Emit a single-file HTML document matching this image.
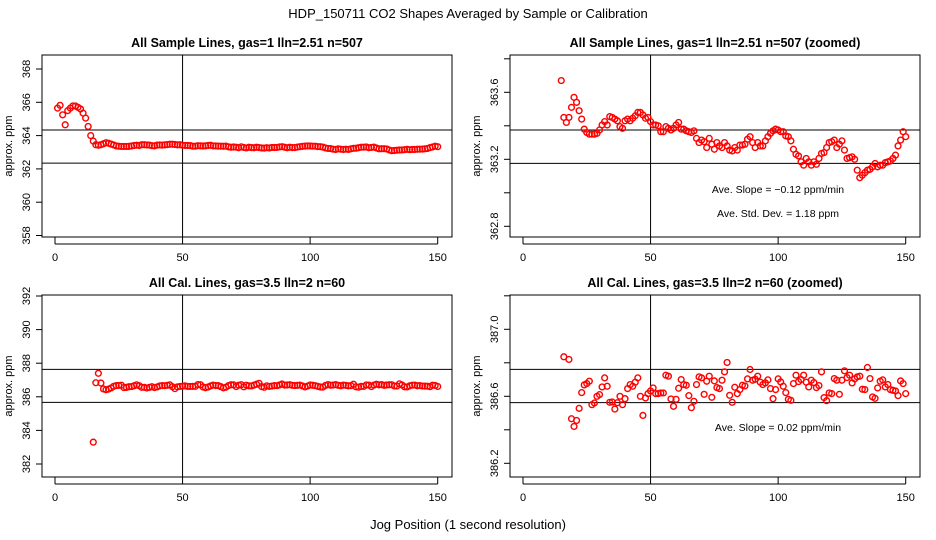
<!DOCTYPE html>
<html><head><meta charset="utf-8"><style>
html,body{margin:0;padding:0;background:#fff;width:936px;height:540px;overflow:hidden;}
svg{display:block;font-family:"Liberation Sans",sans-serif;}
</style></head><body>
<svg id="c" width="936" height="540" viewBox="0 0 936 540">
<text x="468" y="18" text-anchor="middle" font-size="13">HDP_150711  CO2 Shapes Averaged by Sample or Calibration</text>
<text x="468" y="529" text-anchor="middle" font-size="13">Jog Position (1 second resolution)</text>
</svg>
<script>
const xTicks=[0,50,100,150];
const sampleX=[];for(let i=1;i<=150;i++)sampleX.push(i);
const sampleY=[365.65,365.82,365.25,364.65,365.5,365.65,365.78,365.78,365.7,365.6,365.35,365.05,364.55,364.0,
363.67,363.45,363.42,363.45,363.51,363.57,363.54,363.49,363.44,363.38,363.36,363.35,363.35,363.35,363.355,363.375,
363.405,363.425,363.405,363.455,363.45,363.44,363.43,363.395,363.385,363.43,363.44,363.43,363.445,363.46,363.48,
363.48,363.465,363.445,363.45,363.425,363.405,363.405,363.4,363.365,363.365,363.395,363.385,363.375,363.385,363.405,
363.42,363.38,363.38,363.37,363.365,363.36,363.37,363.325,363.3,363.315,363.305,363.27,363.325,363.29,363.26,
363.3,363.28,363.27,363.3,363.28,363.255,363.25,363.27,363.255,363.285,363.285,363.29,363.32,363.335,363.3,
363.27,363.3,363.28,363.28,363.31,363.335,363.355,363.37,363.38,363.375,363.365,363.365,363.34,363.335,363.31,
363.26,363.23,363.22,363.185,363.165,363.205,363.185,363.165,363.185,363.17,363.205,363.235,363.24,363.27,363.3,
363.305,363.315,363.27,363.29,363.31,363.255,363.205,363.21,363.215,363.2,363.135,363.09,363.105,363.12,363.135,
363.14,363.155,363.175,363.155,363.165,363.165,363.18,363.185,363.19,363.205,363.225,363.28,363.315,363.365,363.335];
const calX=[];for(let i=15;i<=150;i++)calX.push(i);
const calY=[383.3,386.836,387.4,386.82,386.466,386.42,386.456,386.528,386.622,386.668,386.676,386.69,386.55,386.56,386.6,
386.61,386.656,386.71,386.66,386.564,386.566,386.524,386.562,386.6,386.55,386.586,386.646,386.67,386.66,386.684,
386.71,386.6,386.486,386.59,386.616,386.632,386.65,386.616,386.616,386.62,386.62,386.726,386.72,386.584,386.54,
386.582,386.648,386.7,386.67,386.666,386.604,386.532,386.57,386.67,386.716,386.71,386.612,386.69,386.72,386.594,
386.692,386.652,386.646,386.696,386.746,386.802,386.606,386.564,386.654,386.616,386.64,386.666,386.662,386.704,
386.76,386.696,386.702,386.72,386.684,386.67,386.68,386.698,386.646,386.586,386.64,386.704,386.686,386.66,386.622,
386.582,386.576,386.676,386.726,386.688,386.7,386.726,386.684,386.656,386.696,386.682,386.652,386.664,386.746,
386.592,386.574,386.62,386.616,386.706,386.696,386.612,386.696,386.752,386.712,386.726,386.68,386.704,386.716,
386.72,386.642,386.64,386.772,386.706,386.596,386.588,386.65,386.69,386.698,386.656,386.67,386.64,386.636,386.632,
386.604,386.692,386.676,386.616];
const tlTicks=["358","360","362","364","366","368"];
const trTicks=["362.8","363.0","363.2","363.4","363.6","363.8"];
const blTicks=["382","384","386","388","390","392"];
const brTicks=["386.2","386.4","386.6","386.8","387.0","387.2"];
const trLabels=["362.8","363.2","363.6"];
const brLabels=["386.2","386.6","387.0"];

const NS="http://www.w3.org/2000/svg";
const svg=document.getElementById('c');
function mk(tag,attrs,parent){const e=document.createElementNS(NS,tag);for(const k in attrs)e.setAttribute(k,attrs[k]);(parent||svg).appendChild(e);return e;}

const panels=[
 {name:'sample-panel',title:'All Sample Lines, gas=1 lln=2.51 n=507',bx:42,by:55,y0:358,y1:368,py0:235.5,py1:69,ticks:tlTicks,labels:tlTicks,hl:[364.34,362.35],xs:sampleX,ys:sampleY,notes:[]},
 {name:'sample-zoomed-panel',title:'All Sample Lines, gas=1 lln=2.51 n=507 (zoomed)',bx:510,by:55,y0:362.8,y1:363.6,py0:226.3,py1:92.3,ticks:trTicks,labels:trLabels,hl:[363.375,363.176],xs:sampleX,ys:sampleY,notes:['Ave. Slope =  \u22120.12  ppm/min','Ave. Std. Dev. =  1.18  ppm']},
 {name:'cal-panel',title:'All Cal. Lines, gas=3.5 lln=2 n=60',bx:42,by:295,y0:382,y1:392,py0:464,py1:296,ticks:blTicks,labels:blTicks,hl:[387.63,385.67],xs:calX,ys:calY,notes:[]},
 {name:'cal-zoomed-panel',title:'All Cal. Lines, gas=3.5 lln=2 n=60 (zoomed)',bx:510,by:295,y0:386.2,y1:387.0,py0:463.3,py1:329.3,ticks:brTicks,labels:brLabels,hl:[386.761,386.562],xs:calX,ys:calY,notes:['Ave. Slope =  0.02  ppm/min']}
];
panels.forEach((p,pi)=>{
 const W=410,H=182;
 const g=mk('g',{});
 
 
 const X=v=>p.bx+13+v*(382.7/150);
 const Y=v=>p.py0+(v-p.y0)*(p.py1-p.py0)/(p.y1-p.y0);
 const t=mk('text',{x:p.bx+W/2,y:p.by-8,'text-anchor':'middle','font-size':'12.5','font-weight':'bold'},g);
 t.textContent=p.title;
 
 
 const cid='clip'+pi;
 const cp=mk('clipPath',{id:cid},g);mk('rect',{x:p.bx,y:p.by,width:W,height:H},cp);
 xTicks.forEach(v=>{
  mk('line',{x1:X(v),x2:X(v),y1:p.by+H,y2:p.by+H+7,stroke:'#000'},g);
  const tx=mk('text',{x:X(v),y:p.by+H+24,'text-anchor':'middle','font-size':'11'},g);
  tx.textContent=v;
  
  
 });
 mk('line',{x1:X(0),x2:X(150),y1:p.by+H+7,y2:p.by+H+7,stroke:'#000'},g);
 const ty=p.ticks.map(Number);
 ty.forEach(v=>{mk('line',{x1:p.bx-6,x2:p.bx,y1:Y(v),y2:Y(v),stroke:'#000'},g);});
 p.labels.forEach(s=>{
  const v=Number(s);
  const tx=mk('text',{x:0,y:0,'text-anchor':'middle','font-size':'11',transform:`translate(${p.bx-12},${Y(v)}) rotate(-90)`},g);
  tx.textContent=s;
  
  
 });
 const yl=mk('text',{x:0,y:0,'text-anchor':'middle','font-size':'11',transform:`translate(${p.bx-30},${p.by+H/2}) rotate(-90)`},g);
 yl.textContent='approx. ppm';
 
 
 p.hl.forEach(v=>mk('line',{x1:p.bx,x2:p.bx+W,y1:Y(v),y2:Y(v),stroke:'#000'},g));
 mk('line',{x1:X(50),x2:X(50),y1:p.by,y2:p.by+H,stroke:'#000'},g);
 const pg=mk('g',{'clip-path':`url(#${cid})`},g);
 p.xs.forEach((xv,i)=>{
  const c=mk('circle',{cx:X(xv),cy:Y(p.ys[i]),r:2.9,fill:'none',stroke:'#f00','stroke-width':1.4},pg);
  
  
 });
 p.notes.forEach((s,i)=>{
  const tx=mk('text',{x:p.bx+268,y:(pi===1?193:431)+i*24,'text-anchor':'middle','font-size':'10.5'},g);
  tx.textContent=s;
  
  
 });
 mk('rect',{x:p.bx,y:p.by,width:W,height:H,fill:'none',stroke:'#000'},g);
});
</script>
</body></html>
